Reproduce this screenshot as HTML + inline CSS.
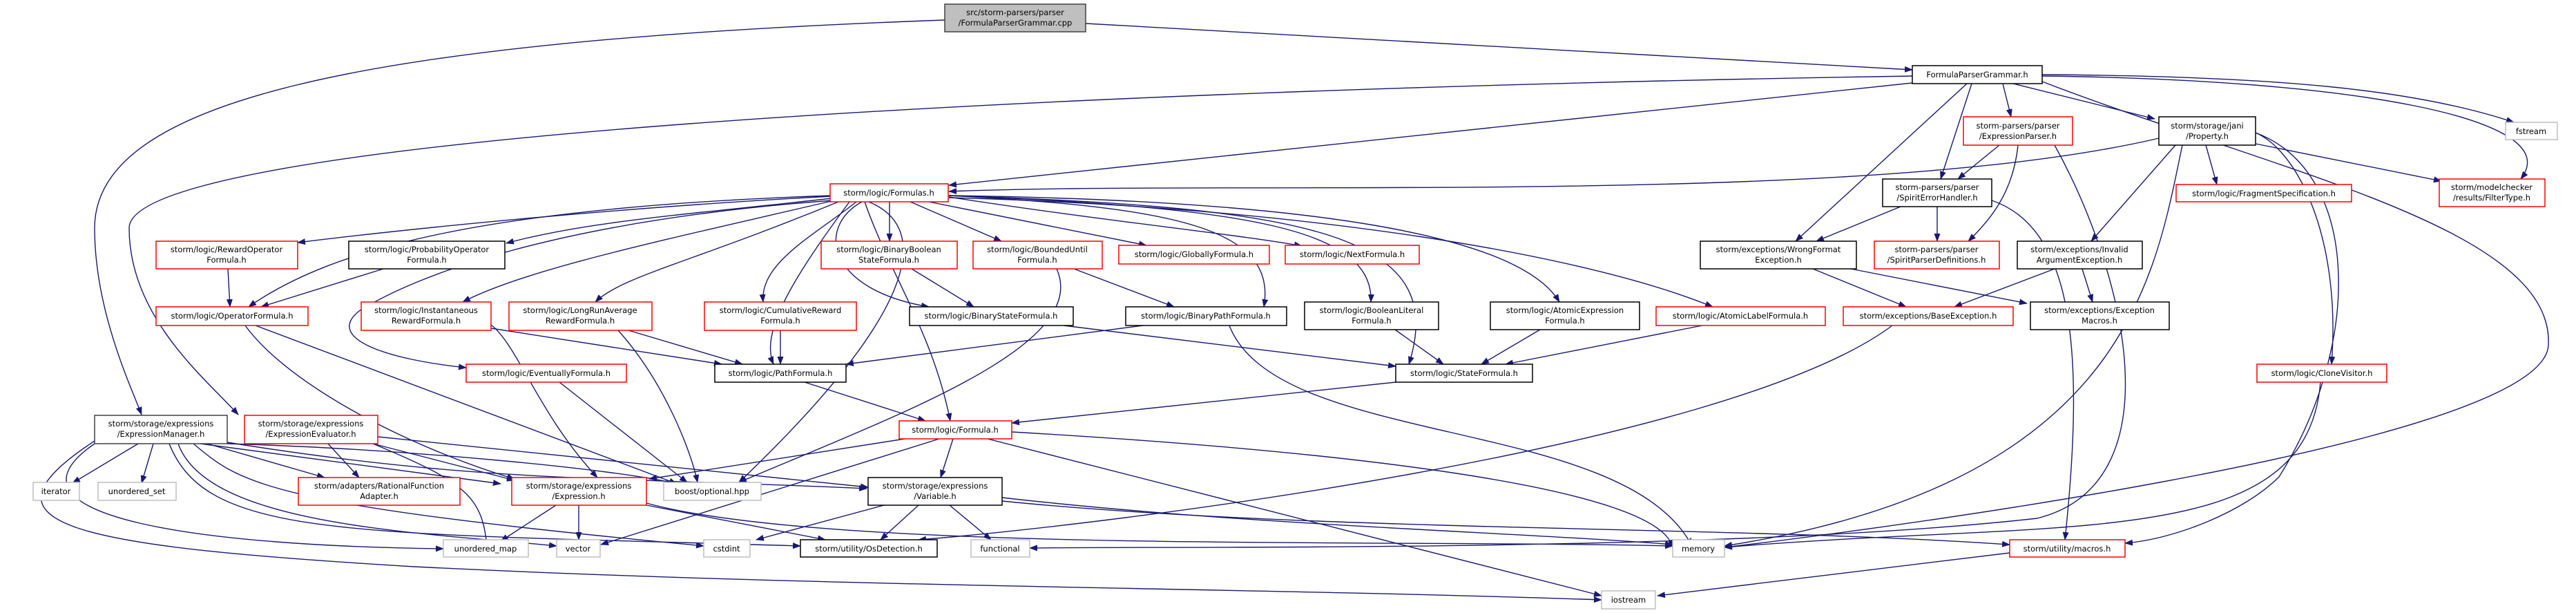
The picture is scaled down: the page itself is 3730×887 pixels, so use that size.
<!DOCTYPE html>
<html><head><meta charset="utf-8"><style>
html,body{margin:0;padding:0;background:#fff;}
svg{display:block;}
text{font-family:"DejaVu Sans","Liberation Sans",sans-serif;font-size:11.5px;fill:#000;text-anchor:middle;}
.e{fill:none;stroke:#191970;stroke-width:1.4;marker-end:url(#a);}
.r{fill:#fff;stroke:#ff0000;stroke-width:1.5;}
.b{fill:#fff;stroke:#000;stroke-width:1.5;}
.g{fill:#fff;stroke:#bfbfbf;stroke-width:1.5;}
</style></head><body>
<svg width="3730" height="887" viewBox="0 0 3730 887" xmlns="http://www.w3.org/2000/svg">
<defs><marker id="a" markerWidth="12" markerHeight="9" refX="11" refY="4.5" orient="auto" markerUnits="userSpaceOnUse"><path d="M0,0 L12,4.5 L0,9 z" fill="#191970"/></marker></defs>
<g>
<!-- root edges -->
<path class="e" d="M1572,34 L2769,101"/>
<path class="e" d="M1368,29 C500,60 137,150 137,330 C137,450 190,560 205,600"/>
<!-- FormulaParserGrammar edges -->
<path class="e" d="M2769,120 L1374,268"/>
<path class="e" d="M2769,110 C1500,130 187,200 187,330 C187,460 300,550 345,600"/>
<path class="e" d="M2900,121 L2912,169"/>
<path class="e" d="M2855,121 L2810,259"/>
<path class="e" d="M2848,121 L2600,349"/>
<path class="e" d="M2915,121 L3120,172"/>
<path class="e" d="M2957,108 C3300,110 3500,130 3640,177"/>
<path class="e" d="M2957,110 C3400,115 3720,170 3650,259"/>
<path class="e" d="M2957,118 C3300,250 3700,330 3690,500 C3680,650 2600,780 2497,792"/>
<!-- Property -->
<path class="e" d="M3126,200 C2700,300 1800,260 1374,277"/>
<path class="e" d="M3194,210 L3210,267"/>
<path class="e" d="M3266,208 L3535,262"/>
<path class="e" d="M3150,210 L3028,349"/>
<path class="e" d="M3266,192 C3330,220 3390,350 3376,527"/>
<path class="e" d="M3266,192 C3420,250 3420,500 3300,690 C3250,740 3150,780 3077,786"/>
<path class="e" d="M3160,210 C3120,400 3080,700 2497,790"/>
<!-- ExpressionParser -->
<path class="e" d="M2895,210 L2835,259"/>
<path class="e" d="M2922,210 C2915,280 2880,320 2850,349"/>
<path class="e" d="M2975,210 C3080,400 3150,700 2950,750 C2500,800 1700,790 1491,793"/>
<!-- SpiritErrorHandler -->
<path class="e" d="M2752,299 L2630,349"/>
<path class="e" d="M2805,299 L2805,349"/>
<path class="e" d="M2884,290 C3000,330 3020,500 2990,781"/>
<!-- exceptions -->
<path class="e" d="M2625,389 L2760,444"/>
<path class="e" d="M2680,389 L2935,439"/>
<path class="e" d="M2975,389 L2830,444"/>
<path class="e" d="M3015,389 L3030,437"/>
<path class="e" d="M2740,471 C2500,650 1600,760 1330,781"/>
<path class="e" d="M3360,553 C3340,800 3000,750 2497,792"/>
<path class="e" d="M2910,800 L2400,862"/>
<!-- Formulas.h edges -->
<path class="e" d="M1204,284 C900,300 600,330 431,351"/>
<path class="e" d="M1204,287 C1000,310 850,320 733,352"/>
<path class="e" d="M1204,283 C700,300 480,360 360,444"/>
<path class="e" d="M1208,290 C950,350 760,390 670,437"/>
<path class="e" d="M1214,292 C1000,380 900,400 862,437"/>
<path class="e" d="M1206,290 C800,320 600,400 520,450 C470,490 560,520 675,532"/>
<path class="e" d="M1240,292 C1180,340 1100,380 1105,437"/>
<path class="e" d="M1288,292 L1288,349"/>
<path class="e" d="M1318,292 L1450,349"/>
<path class="e" d="M1345,292 L1660,355"/>
<path class="e" d="M1374,285 C1600,320 1800,340 1885,356"/>
<path class="e" d="M1248,292 C1180,330 1200,420 1345,444"/>
<path class="e" d="M1374,283 C1700,300 1850,330 1830,444"/>
<path class="e" d="M1230,292 C1150,400 1100,480 1120,527"/>
<path class="e" d="M1374,283 C1900,300 2100,340 2040,527"/>
<path class="e" d="M1374,283 C1800,300 1990,330 1985,437"/>
<path class="e" d="M1374,283 C1900,290 2200,340 2258,437"/>
<path class="e" d="M1374,286 C1900,300 2300,370 2480,444"/>
<path class="e" d="M1252,292 C1290,400 1350,480 1376,609"/>
<path class="e" d="M1258,292 C1350,330 1330,450 1070,698"/>
<!-- level 2 -->
<path class="e" d="M330,389 L333,444"/>
<path class="e" d="M555,389 L378,444"/>
<path class="e" d="M355,471 C420,560 600,650 745,693"/>
<path class="e" d="M370,471 L980,700"/>
<path class="e" d="M711,470 C750,500 780,600 865,691"/>
<path class="e" d="M711,475 L1045,527"/>
<path class="e" d="M910,478 L1075,527"/>
<path class="e" d="M895,478 C960,550 1000,650 1010,698"/>
<path class="e" d="M1130,478 L1130,527"/>
<path class="e" d="M810,553 L995,698"/>
<path class="e" d="M1320,389 L1410,444"/>
<path class="e" d="M1555,389 L1700,444"/>
<path class="e" d="M1530,389 C1580,500 1300,600 1070,698"/>
<path class="e" d="M1540,471 L2021,530"/>
<path class="e" d="M1655,471 L1225,527"/>
<path class="e" d="M1780,471 C1850,650 2350,600 2450,790"/>
<path class="e" d="M2020,477 L2090,527"/>
<path class="e" d="M2230,477 L2145,527"/>
<path class="e" d="M2465,471 L2180,527"/>
<path class="e" d="M1165,553 L1340,609"/>
<path class="e" d="M2021,553 L1465,612"/>
<!-- Formula.h -->
<path class="e" d="M1310,635 L940,693"/>
<path class="e" d="M1380,635 L1362,691"/>
<path class="e" d="M1360,635 L870,788"/>
<path class="e" d="M1465,625 C1900,650 2400,700 2422,792"/>
<path class="e" d="M1430,635 L2319,862"/>
<!-- ExpressionManager -->
<path class="e" d="M200,642 L105,699"/>
<path class="e" d="M222,642 L205,699"/>
<path class="e" d="M300,642 L470,691"/>
<path class="e" d="M290,642 L725,700"/>
<path class="e" d="M329,640 C700,700 900,690 1255,707"/>
<path class="e" d="M329,642 C600,650 900,680 980,700"/>
<path class="e" d="M137,642 C-20,750 300,790 642,794"/>
<path class="e" d="M258,642 C300,760 600,770 806,790"/>
<path class="e" d="M280,642 C350,700 380,730 1019,790"/>
<path class="e" d="M245,642 C300,780 500,770 1159,790"/>
<path class="e" d="M137,638 C-50,760 100,790 600,820 C1200,850 1800,850 2319,868"/>
<!-- ExpressionEvaluator -->
<path class="e" d="M475,642 L520,691"/>
<path class="e" d="M540,642 L745,695"/>
<path class="e" d="M547,632 L1257,705"/>
<path class="e" d="M540,642 C680,700 700,720 706,800"/>
<!-- Expression.h -->
<path class="e" d="M805,731 L725,783"/>
<path class="e" d="M838,731 L838,781"/>
<path class="e" d="M936,731 L1195,781"/>
<path class="e" d="M936,728 C1200,800 2000,780 2422,790"/>
<!-- Variable.h -->
<path class="e" d="M1280,731 L1095,781"/>
<path class="e" d="M1330,731 L1275,781"/>
<path class="e" d="M1375,731 L1435,781"/>
<path class="e" d="M1451,720 C1800,760 2200,770 2422,788"/>
<path class="e" d="M1451,725 C1900,770 2500,760 2910,788"/>
</g>
<g>
<!-- nodes -->
<rect x="1368" y="6" width="204" height="40" fill="#bfbfbf" stroke="#404040" stroke-width="1.5"/>
<text x="1470" y="22">src/storm-parsers/parser</text><text x="1470" y="37">/FormulaParserGrammar.cpp</text>

<rect class="b" x="2769" y="95" width="188" height="26"/><text x="2863" y="112">FormulaParserGrammar.h</text>
<rect class="r" x="2843" y="169" width="158" height="41"/><text x="2922" y="186">storm-parsers/parser</text><text x="2922" y="201">/ExpressionParser.h</text>
<rect class="b" x="3126" y="169" width="140" height="41"/><text x="3196" y="186">storm/storage/jani</text><text x="3196" y="201">/Property.h</text>
<rect class="g" x="3628" y="177" width="75" height="25"/><text x="3665" y="194">fstream</text>
<rect class="b" x="2726" y="259" width="158" height="40"/><text x="2805" y="275">storm-parsers/parser</text><text x="2805" y="290">/SpiritErrorHandler.h</text>
<rect class="r" x="3151" y="267" width="254" height="25"/><text x="3278" y="284">storm/logic/FragmentSpecification.h</text>
<rect class="r" x="3532" y="259" width="153" height="40"/><text x="3608" y="275">storm/modelchecker</text><text x="3608" y="290">/results/FilterType.h</text>
<rect class="r" x="1202" y="266" width="171" height="26"/><text x="1287" y="283">storm/logic/Formulas.h</text>

<rect class="r" x="226" y="349" width="205" height="40"/><text x="328" y="365">storm/logic/RewardOperator</text><text x="328" y="380">Formula.h</text>
<rect class="b" x="505" y="349" width="226" height="40"/><text x="618" y="365">storm/logic/ProbabilityOperator</text><text x="618" y="380">Formula.h</text>
<rect class="r" x="1189" y="349" width="197" height="40"/><text x="1287" y="365">storm/logic/BinaryBoolean</text><text x="1287" y="380">StateFormula.h</text>
<rect class="r" x="1409" y="349" width="187" height="40"/><text x="1502" y="365">storm/logic/BoundedUntil</text><text x="1502" y="380">Formula.h</text>
<rect class="r" x="1620" y="355" width="218" height="27"/><text x="1729" y="372">storm/logic/GloballyFormula.h</text>
<rect class="r" x="1861" y="355" width="194" height="27"/><text x="1958" y="372">storm/logic/NextFormula.h</text>
<rect class="b" x="2462" y="349" width="226" height="40"/><text x="2575" y="365">storm/exceptions/WrongFormat</text><text x="2575" y="380">Exception.h</text>
<rect class="r" x="2714" y="349" width="181" height="40"/><text x="2804" y="365">storm-parsers/parser</text><text x="2804" y="380">/SpiritParserDefinitions.h</text>
<rect class="b" x="2921" y="349" width="181" height="40"/><text x="3011" y="365">storm/exceptions/Invalid</text><text x="3011" y="380">ArgumentException.h</text>

<rect class="r" x="226" y="444" width="220" height="27"/><text x="336" y="461">storm/logic/OperatorFormula.h</text>
<rect class="r" x="523" y="437" width="188" height="41"/><text x="617" y="453">storm/logic/Instantaneous</text><text x="617" y="468">RewardFormula.h</text>
<rect class="r" x="737" y="437" width="207" height="41"/><text x="840" y="453">storm/logic/LongRunAverage</text><text x="840" y="468">RewardFormula.h</text>
<rect class="r" x="1020" y="437" width="220" height="41"/><text x="1130" y="453">storm/logic/CumulativeReward</text><text x="1130" y="468">Formula.h</text>
<rect class="b" x="1317" y="444" width="237" height="27"/><text x="1435" y="461">storm/logic/BinaryStateFormula.h</text>
<rect class="b" x="1630" y="444" width="233" height="27"/><text x="1746" y="461">storm/logic/BinaryPathFormula.h</text>
<rect class="b" x="1889" y="437" width="194" height="40"/><text x="1986" y="453">storm/logic/BooleanLiteral</text><text x="1986" y="468">Formula.h</text>
<rect class="b" x="2158" y="437" width="216" height="40"/><text x="2266" y="453">storm/logic/AtomicExpression</text><text x="2266" y="468">Formula.h</text>
<rect class="r" x="2398" y="444" width="245" height="27"/><text x="2520" y="461">storm/logic/AtomicLabelFormula.h</text>
<rect class="r" x="2669" y="444" width="246" height="27"/><text x="2792" y="461">storm/exceptions/BaseException.h</text>
<rect class="b" x="2940" y="437" width="201" height="40"/><text x="3040" y="453">storm/exceptions/Exception</text><text x="3040" y="468">Macros.h</text>

<rect class="r" x="675" y="527" width="232" height="26"/><text x="791" y="544">storm/logic/EventuallyFormula.h</text>
<rect class="b" x="1035" y="527" width="190" height="26"/><text x="1130" y="544">storm/logic/PathFormula.h</text>
<rect class="b" x="2021" y="527" width="198" height="26"/><text x="2120" y="544">storm/logic/StateFormula.h</text>
<rect class="r" x="3268" y="527" width="188" height="26"/><text x="3362" y="544">storm/logic/CloneVisitor.h</text>

<rect x="137" y="601" width="192" height="41" fill="#fff" stroke="#404040" stroke-width="1.5"/><text x="233" y="617">storm/storage/expressions</text><text x="233" y="632">/ExpressionManager.h</text>
<rect class="r" x="354" y="601" width="193" height="41"/><text x="450" y="617">storm/storage/expressions</text><text x="450" y="632">/ExpressionEvaluator.h</text>
<rect class="r" x="1302" y="609" width="163" height="26"/><text x="1383" y="626">storm/logic/Formula.h</text>

<rect class="g" x="48" y="698" width="67" height="26"/><text x="81" y="715">iterator</text>
<rect class="g" x="142" y="698" width="113" height="26"/><text x="198" y="715">unordered_set</text>
<rect class="r" x="432" y="691" width="234" height="40"/><text x="549" y="707">storm/adapters/RationalFunction</text><text x="549" y="722">Adapter.h</text>
<rect class="r" x="741" y="691" width="195" height="40"/><text x="838" y="707">storm/storage/expressions</text><text x="838" y="722">/Expression.h</text>
<rect class="g" x="961" y="698" width="141" height="26"/><text x="1031" y="715">boost/optional.hpp</text>
<rect class="b" x="1257" y="691" width="194" height="40"/><text x="1354" y="707">storm/storage/expressions</text><text x="1354" y="722">/Variable.h</text>

<rect class="g" x="642" y="781" width="123" height="25"/><text x="703" y="798">unordered_map</text>
<rect class="g" x="806" y="781" width="63" height="25"/><text x="837" y="798">vector</text>
<rect class="g" x="1019" y="781" width="67" height="25"/><text x="1052" y="798">cstdint</text>
<rect class="b" x="1159" y="781" width="198" height="25"/><text x="1258" y="798">storm/utility/OsDetection.h</text>
<rect class="g" x="1406" y="781" width="85" height="25"/><text x="1448" y="798">functional</text>
<rect class="g" x="2422" y="781" width="75" height="25"/><text x="2459" y="798">memory</text>
<rect class="r" x="2910" y="781" width="167" height="25"/><text x="2993" y="798">storm/utility/macros.h</text>
<rect class="g" x="2319" y="855" width="78" height="26"/><text x="2358" y="872">iostream</text>
</g>
</svg>
</body></html>
